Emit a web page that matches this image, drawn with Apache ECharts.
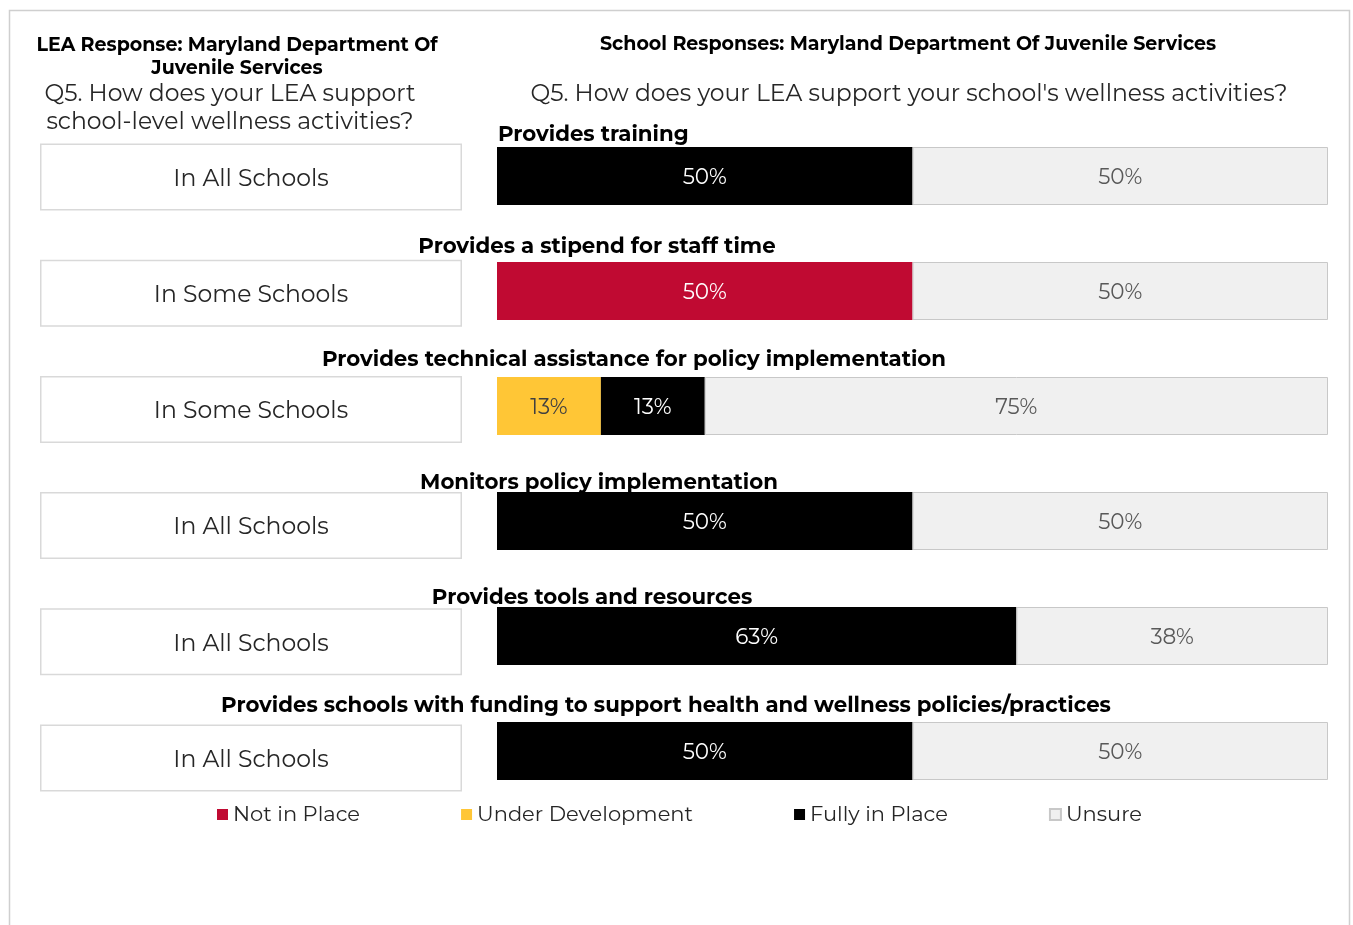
<!DOCTYPE html>
<html>
<head>
<meta charset="utf-8">
<title>Q5 LEA support</title>
<script src="https://cdn.jsdelivr.net/npm/echarts@6/dist/echarts.min.js"></script>
<style>
  html, body { margin: 0; padding: 0; background: #fff; }
  #main { width: 1353px; height: 925px; }
</style>
</head>
<body>
<div id="main"></div>
<script>
// row questions (top to bottom)
var questions = [
  "Provides training",
  "Provides a stipend for staff time",
  "Provides technical assistance for policy implementation",
  "Monitors policy implementation",
  "Provides tools and resources",
  "Provides schools with funding to support health and wellness policies/practices"
];
// LEA answer for each row
var leaAnswers = [
  "In All Schools",
  "In Some Schools",
  "In Some Schools",
  "In All Schools",
  "In All Schools",
  "In All Schools"
];
// school responses, percent per row
var notInPlace       = [0, 50, 0, 0, 0, 0];
var underDevelopment = [0, 0, 12.5, 0, 0, 0];
var fullyInPlace     = [50, 0, 12.5, 50, 62.5, 50];
var unsure           = [50, 50, 75, 50, 37.5, 50];

var FONT = "Montserrat, 'DejaVu Sans', sans-serif";

// where each row title sits (x / top)
var titlePos = [
  { left: 498, top: 122, align: "left" },
  { left: 597, top: 234, align: "center" },
  { left: 634, top: 347, align: "center" },
  { left: 599, top: 470, align: "center" },
  { left: 592, top: 585, align: "center" },
  { left: 666, top: 693, align: "center" }
];

var chart = echarts.init(document.getElementById("main"));

function pctLabel(color) {
  return {
    show: true,
    position: "inside",
    offset: [0, 2],
    color: color,
    fontFamily: FONT,
    fontSize: 21.5,
    formatter: function (p) {
      return p.value > 0 ? Math.round(p.value) + "%" : "";
    }
  };
}

var titles = [
  {
    text: "LEA Response: Maryland Department Of\nJuvenile Services",
    left: 237, top: 34, textAlign: "center", padding: 0,
    textStyle: { fontFamily: FONT, fontSize: 19, fontWeight: "bold", color: "#000", lineHeight: 23 }
  },
  {
    text: "Q5. How does your LEA support\nschool-level wellness activities?",
    left: 230, top: 80, textAlign: "center", padding: 0,
    textStyle: { fontFamily: FONT, fontSize: 23.5, fontWeight: "normal", color: "#262626", lineHeight: 28 }
  },
  {
    text: "School Responses: Maryland Department Of Juvenile Services",
    left: 908, top: 32, textAlign: "center", padding: 0,
    textStyle: { fontFamily: FONT, fontSize: 19, fontWeight: "bold", color: "#000", lineHeight: 24 }
  },
  {
    text: "Q5. How does your LEA support your school's wellness activities?",
    left: 909, top: 80, textAlign: "center", padding: 0,
    textStyle: { fontFamily: FONT, fontSize: 23.5, fontWeight: "normal", color: "#262626", lineHeight: 28 }
  }
];
questions.forEach(function (q, i) {
  titles.push({
    text: q,
    left: titlePos[i].left, top: titlePos[i].top, textAlign: titlePos[i].align, padding: 0,
    textStyle: { fontFamily: FONT, fontSize: 21.3, fontWeight: "bold", color: "#000", lineHeight: 26 }
  });
});

chart.setOption({
  animation: false,
  title: titles,
  graphic: [
    {
      type: "rect",
      shape: { x: 9.5, y: 10.5, width: 1340, height: 940 },
      style: { fill: "none", stroke: "#cfcfcf", lineWidth: 1.5 },
      silent: true
    }
  ],
  legend: {
    data: ["Not in Place", "Under Development", "Fully in Place", "Unsure"],
    left: 212,
    top: 799,
    itemWidth: 11,
    itemHeight: 11,
    itemGap: 101,
    icon: "rect",
    textStyle: { fontFamily: FONT, fontSize: 21, color: "#262626" }
  },
  grid: [
    { left: 497, width: 831, top: 118.5, height: 690 },
    { left: 40, width: 422, top: 119, height: 697 }
  ],
  xAxis: [
    { type: "value", gridIndex: 0, min: 0, max: 100, show: false },
    { type: "value", gridIndex: 1, min: 0, max: 1, show: false }
  ],
  yAxis: [
    { type: "category", gridIndex: 0, data: questions, inverse: true, show: false },
    { type: "category", gridIndex: 1, data: questions, inverse: true, show: false }
  ],
  series: [
    {
      name: "Not in Place", type: "bar", stack: "s", barWidth: 58,
      itemStyle: { color: "#c00a32" },
      label: pctLabel("#ffffff"),
      data: notInPlace
    },
    {
      name: "Under Development", type: "bar", stack: "s", barWidth: 58,
      itemStyle: { color: "#ffc636" },
      label: pctLabel("#404040"),
      data: underDevelopment
    },
    {
      name: "Fully in Place", type: "bar", stack: "s", barWidth: 58,
      itemStyle: { color: "#000000" },
      label: pctLabel("#ffffff"),
      data: fullyInPlace
    },
    {
      name: "Unsure", type: "bar", stack: "s", barWidth: 58,
      itemStyle: { color: "#f0f0f0", borderColor: "#c8c8c8", borderWidth: 1 },
      label: pctLabel("#595959"),
      data: unsure
    },
    {
      name: "LEA", type: "bar", xAxisIndex: 1, yAxisIndex: 1, barWidth: 67,
      itemStyle: { color: "#ffffff", borderColor: "#d9d9d9", borderWidth: 1.5 },
      label: {
        show: true,
        position: "inside",
        offset: [0, 2],
        color: "#262626",
        fontFamily: FONT,
        fontSize: 23.5,
        formatter: function (p) { return leaAnswers[p.dataIndex]; }
      },
      data: leaAnswers.map(function () { return 1; })
    }
  ]
});
</script>
</body>
</html>
